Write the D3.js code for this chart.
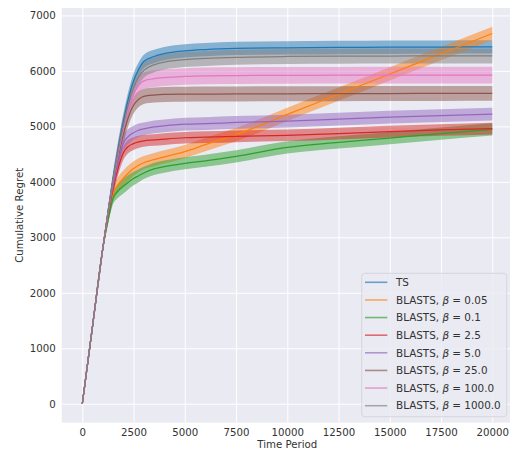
<!DOCTYPE html>
<html><head><meta charset="utf-8">
<script src="https://cdn.jsdelivr.net/npm/d3@7"></script>
<style>body{margin:0;background:#fff}svg{display:block}text{font-family:"DejaVu Sans",sans-serif}</style>
</head><body><svg id="c" width="510" height="449"></svg>
<script>
// ---- data ----
const T = [0,500,1000,1250,1500,1750,2000,2250,2500,2750,3000,3500,4000,5000,6000,7500,10000,12500,15000,17500,20000];
const seriesNames = ["TS","BLASTS","BLASTS","BLASTS","BLASTS","BLASTS","BLASTS","BLASTS"];
const betaLabels = [null,"0.05","0.1","2.5","5.0","25.0","100.0","1000.0"];
const colors = ["#1f77b4","#ff7f0e","#2ca02c","#d62728","#9467bd","#8c564b","#e377c2","#7f7f7f"];
const meanTS    = [0,1400,2800,3450,4050,4600,5080,5500,5820,6030,6170,6260,6310,6360,6385,6405,6415,6422,6427,6430,6432];
const meanB005  = [0,1400,2800,3330,3780,3950,4060,4160,4240,4300,4345,4400,4450,4545,4670,4850,5215,5580,5945,6310,6674];
const meanB01   = [0,1400,2800,3300,3700,3840,3920,3995,4060,4110,4160,4235,4275,4335,4380,4460,4620,4710,4790,4870,4945];
const meanB25   = [0,1400,2800,3380,3870,4250,4520,4640,4690,4720,4740,4755,4770,4795,4805,4820,4840,4870,4905,4935,4960];
const meanB50   = [0,1400,2800,3400,3920,4350,4690,4820,4885,4930,4955,4990,5010,5040,5050,5070,5095,5130,5165,5195,5220];
const meanB250  = [0,1400,2800,3420,3980,4450,4850,5170,5380,5490,5540,5565,5575,5580,5582,5585,5588,5590,5592,5594,5595];
const meanB1000 = [0,1400,2800,3430,4000,4500,4950,5320,5580,5740,5820,5860,5880,5900,5910,5915,5920,5922,5924,5925,5925];
const meanB10000= [0,1400,2800,3440,4030,4560,5020,5400,5690,5890,6010,6110,6160,6205,6225,6245,6260,6265,6268,6270,6270];
const halfWidth = [120,120,110,105,115,135,150,135];
const spreadShape = [0,0.1,0.4,0.7,0.95,1.15,1.2,1.15,1.1,1.05,1,1,1,1,1,1,1,1,1,1,1];
const xTicks = [0,2500,5000,7500,10000,12500,15000,17500,20000];
const yTicks = [0,1000,2000,3000,4000,5000,6000,7000];
const means = [meanTS,meanB005,meanB01,meanB25,meanB50,meanB250,meanB1000,meanB10000];

// ---- layout ----
const L = 61.8, R = 512.8, TOP = 8, BOT = 422.6;
const svg = d3.select("#c");
const x = d3.scaleLinear().domain([-1000,21000]).range([L,R]);
const y = d3.scaleLinear().domain([-340,7134]).range([BOT,TOP]);

svg.append("defs").append("clipPath").attr("id","pa")
  .append("rect").attr("x",L).attr("y",TOP).attr("width",R-L).attr("height",BOT-TOP);

svg.append("rect").attr("x",L).attr("y",TOP).attr("width",R-L).attr("height",BOT-TOP).attr("fill","#eaeaf2");

// grid
const gx = svg.append("g").attr("transform",`translate(0,${BOT})`)
  .call(d3.axisBottom(x).tickValues(xTicks).tickSize(-(BOT-TOP)).tickFormat(""));
gx.select(".domain").remove();
gx.selectAll("line").attr("stroke","#fff").attr("stroke-width",1);
const gy = svg.append("g").attr("transform",`translate(${L},0)`)
  .call(d3.axisLeft(y).tickValues(yTicks).tickSize(-(R-L)).tickFormat(""));
gy.select(".domain").remove();
gy.selectAll("line").attr("stroke","#fff").attr("stroke-width",1);

// tick labels
const ax = svg.append("g").attr("transform",`translate(0,${BOT})`)
  .call(d3.axisBottom(x).tickValues(xTicks).tickSize(0).tickPadding(6).tickFormat(d3.format("d")));
ax.select(".domain").remove();
ax.selectAll("text").attr("fill","#333").style("font-size","10.2px").style("font-family","DejaVu Sans");
const ay = svg.append("g").attr("transform",`translate(${L},0)`)
  .call(d3.axisLeft(y).tickValues(yTicks).tickSize(0).tickPadding(6).tickFormat(d3.format("d")));
ay.select(".domain").remove();
ay.selectAll("text").attr("fill","#333").style("font-size","10.2px").style("font-family","DejaVu Sans");

// axis labels
svg.append("text").attr("x",(L+R)/2).attr("y",448).attr("text-anchor","middle")
  .attr("fill","#333").style("font-size","10.2px").text("Time Period");
svg.append("text").attr("transform",`translate(23,${(TOP+BOT)/2}) rotate(-90)`).attr("text-anchor","middle")
  .attr("fill","#333").style("font-size","10.2px").text("Cumulative Regret");

// data
const plot = svg.append("g").attr("clip-path","url(#pa)");
const area = d3.area().curve(d3.curveMonotoneX).x(d=>x(d.t)).y0(d=>y(d.lo)).y1(d=>y(d.hi));
const line = d3.line().curve(d3.curveMonotoneX).x(d=>x(d.t)).y(d=>y(d.m));
const data = means.map((arr,i)=>T.map((t,j)=>({t, m:arr[j], lo:arr[j]-halfWidth[i]*spreadShape[j], hi:arr[j]+halfWidth[i]*spreadShape[j]})));
data.forEach((d,i)=>{
  plot.append("path").datum(d).attr("d",area).attr("fill",colors[i]).attr("fill-opacity",0.5).attr("stroke","none");
});
data.forEach((d,i)=>{
  plot.append("path").datum(d).attr("d",line).attr("fill","none").attr("stroke",colors[i]).attr("stroke-width",1.25);
});

// legend
const lg = svg.append("g");
lg.append("rect").attr("x",361.7).attr("y",273.3).attr("width",145).attr("height",143.4).attr("rx",3)
  .attr("fill","#eaeaf2").attr("fill-opacity",0.8).attr("stroke","#cfcfd6").attr("stroke-width",0.8);
const legY = d3.scaleLinear().domain([0,7]).range([282.3,405.7]);
seriesNames.forEach((n,i)=>{
  const yy = legY(i);
  lg.append("line").attr("x1",365).attr("x2",387.3).attr("y1",yy).attr("y2",yy)
    .attr("stroke",colors[i]).attr("stroke-opacity",0.65).attr("stroke-width",1.6);
  const t = lg.append("text").attr("x",396).attr("y",yy).attr("dy","0.36em").attr("fill","#333").style("font-size","10.4px");
  if (betaLabels[i]===null) { t.text(n); }
  else {
    t.append("tspan").text(n+", ");
    t.append("tspan").style("font-style","italic").text("β");
    t.append("tspan").text(" = "+betaLabels[i]);
  }
});
</script>
</body></html>
